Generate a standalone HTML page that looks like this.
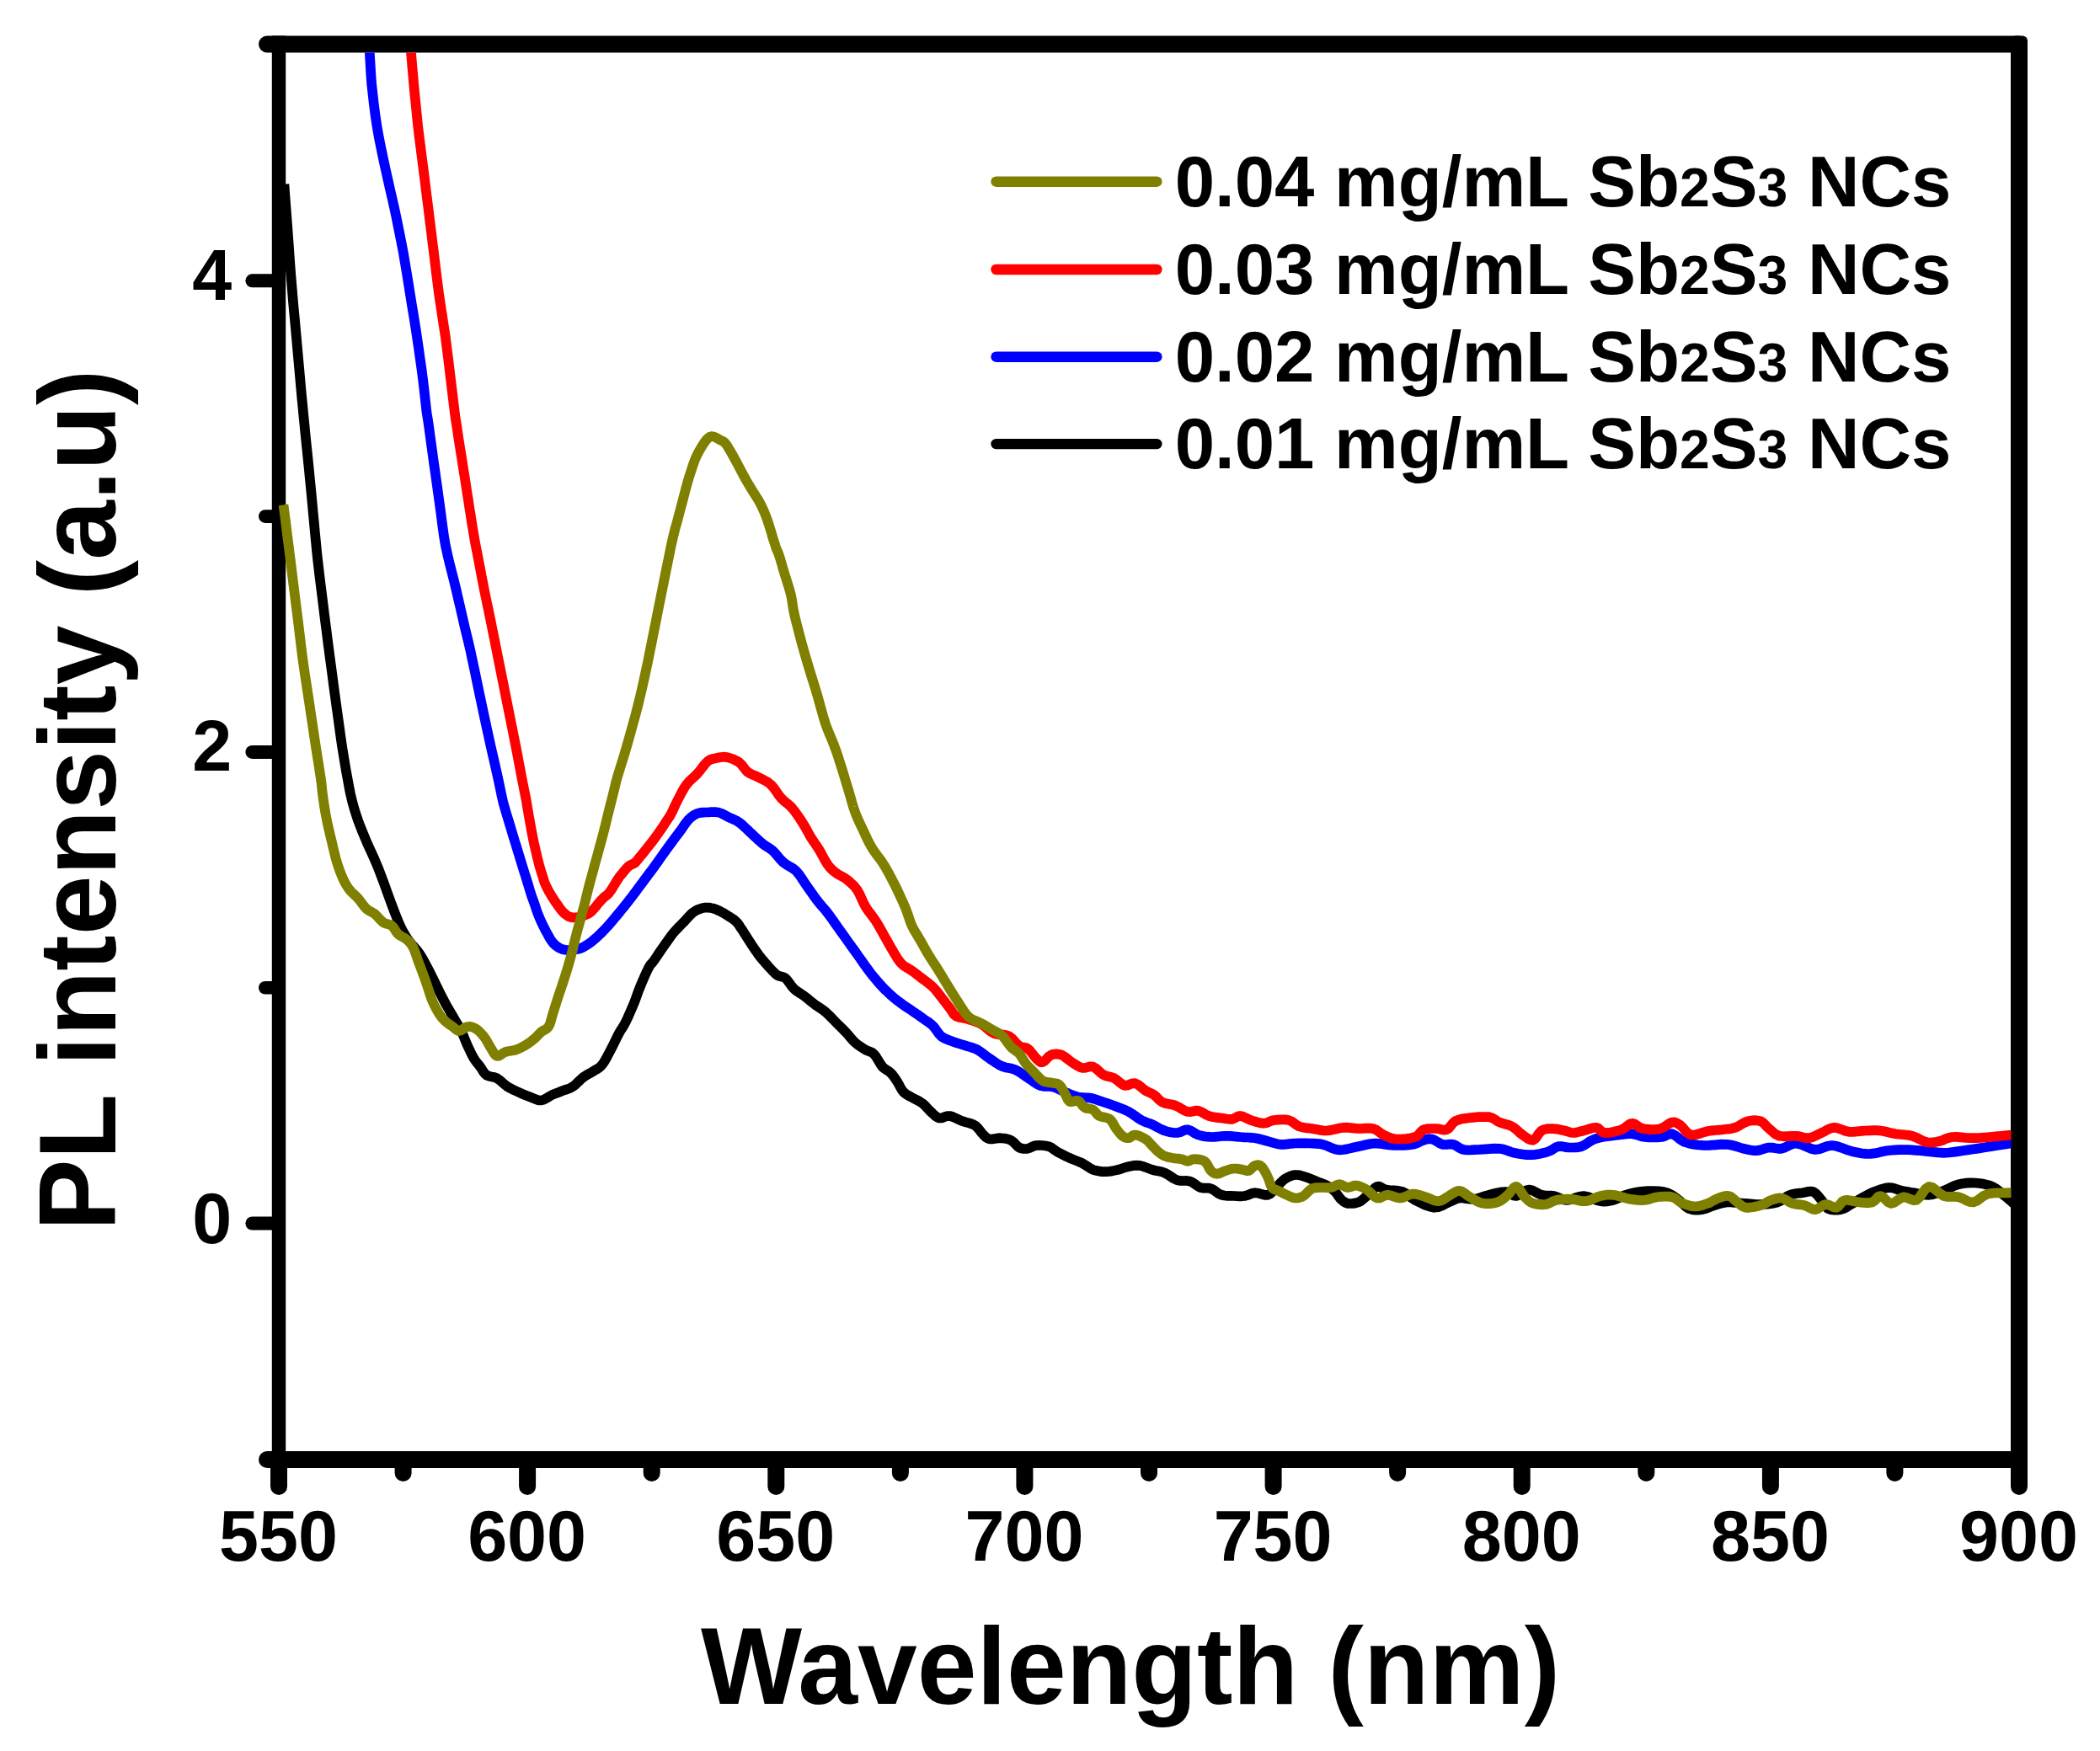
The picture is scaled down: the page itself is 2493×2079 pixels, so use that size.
<!DOCTYPE html>
<html lang="en"><head><meta charset="utf-8"><title>PL intensity vs Wavelength</title>
<style>html,body{margin:0;padding:0;background:#fff;}svg{display:block;}text{font-family:"Liberation Sans",Arial,Helvetica,sans-serif;font-weight:bold;fill:#000;}</style></head><body>
<svg width="2493" height="2079" viewBox="0 0 2493 2079">
<rect width="2493" height="2079" fill="#fff"/>
<defs><clipPath id="plot"><rect x="331" y="62.5" width="2056.5" height="1660"/></clipPath></defs>
<g stroke="#000" fill="none" stroke-linecap="round">
<line x1="317" y1="52.5" x2="2397" y2="52.5" stroke-width="20.0"/>
<line x1="317" y1="1733.0" x2="2397" y2="1733.0" stroke-width="20.0" />
<line x1="331.0" y1="1733.0" x2="331.0" y2="1765" stroke-width="20.0"/>
<line x1="626.1" y1="1733.0" x2="626.1" y2="1765" stroke-width="20.0"/>
<line x1="921.3" y1="1733.0" x2="921.3" y2="1765" stroke-width="20.0"/>
<line x1="1216.4" y1="1733.0" x2="1216.4" y2="1765" stroke-width="20.0"/>
<line x1="1511.6" y1="1733.0" x2="1511.6" y2="1765" stroke-width="20.0"/>
<line x1="1806.7" y1="1733.0" x2="1806.7" y2="1765" stroke-width="20.0"/>
<line x1="2101.9" y1="1733.0" x2="2101.9" y2="1765" stroke-width="20.0"/>
<line x1="2397.0" y1="1733.0" x2="2397.0" y2="1765" stroke-width="20.0"/>
<line x1="478.6" y1="1733.0" x2="478.6" y2="1749" stroke-width="20.0"/>
<line x1="773.7" y1="1733.0" x2="773.7" y2="1749" stroke-width="20.0"/>
<line x1="1068.9" y1="1733.0" x2="1068.9" y2="1749" stroke-width="20.0"/>
<line x1="1364.0" y1="1733.0" x2="1364.0" y2="1749" stroke-width="20.0"/>
<line x1="1659.1" y1="1733.0" x2="1659.1" y2="1749" stroke-width="20.0"/>
<line x1="1954.3" y1="1733.0" x2="1954.3" y2="1749" stroke-width="20.0"/>
<line x1="2249.4" y1="1733.0" x2="2249.4" y2="1749" stroke-width="20.0"/>
<line x1="299.4" y1="1452.5" x2="331" y2="1452.5" stroke-width="16.0"/>
<line x1="299.4" y1="892.9" x2="331" y2="892.9" stroke-width="16.0"/>
<line x1="299.4" y1="333.3" x2="331" y2="333.3" stroke-width="16.0"/>
<line x1="314.8" y1="1172.7" x2="331" y2="1172.7" stroke-width="15.6"/>
<line x1="314.8" y1="613.1" x2="331" y2="613.1" stroke-width="15.6"/>
</g>
<g stroke="#000" fill="none" stroke-linecap="butt">
<line x1="331" y1="42.5" x2="331" y2="1743.0" stroke-width="16.4"/>
<line x1="2397" y1="48.5" x2="2397" y2="1743.0" stroke-width="20.0"/>
</g>
<rect x="2387" y="42.5" width="20" height="20" rx="6" fill="#000"/>
<g clip-path="url(#plot)">
<polyline points="337.4,218.6 338.3,231.2 339.7,249.5 341.2,269.1 342.4,285.7 343.3,298.1 344.0,308.7 344.7,318.4 345.5,328.6 346.4,339.3 347.3,350.0 348.2,360.7 349.2,371.4 350.2,382.3 351.2,393.3 352.2,404.1 353.1,414.3 353.9,423.6 354.7,432.1 355.5,440.7 356.3,450.0 357.2,460.2 358.2,471.1 359.3,482.1 360.3,493.0 361.4,503.7 362.4,514.4 363.5,525.0 364.6,535.7 365.7,546.4 366.8,557.1 367.8,567.9 368.9,578.6 369.9,589.3 370.9,600.0 371.9,610.7 372.9,621.4 373.9,632.3 375.0,643.3 376.0,654.1 377.1,664.3 378.2,673.7 379.2,682.5 380.3,691.2 381.4,700.0 382.5,708.9 383.6,717.6 384.7,726.8 386.0,737.0 387.5,748.6 389.1,761.2 390.8,774.2 392.5,787.0 394.2,799.5 395.8,812.0 397.5,824.5 399.2,837.0 401.0,849.8 402.8,862.8 404.5,875.4 406.2,887.0 407.9,897.4 409.5,907.1 411.0,915.9 412.5,924.0 413.8,931.1 414.9,937.2 416.1,943.0 417.5,949.0 419.1,955.2 420.9,961.5 422.9,967.8 425.0,974.0 427.3,980.2 429.8,986.5 432.4,992.8 435.0,999.0 437.8,1005.3 440.7,1011.7 443.6,1017.9 446.2,1024.0 448.6,1029.7 450.7,1035.1 452.8,1040.6 455.0,1046.5 457.4,1053.1 459.9,1060.1 462.5,1067.2 465.0,1074.0 467.5,1080.6 470.0,1087.1 472.5,1093.3 475.0,1099.0 477.4,1104.0 479.8,1108.4 482.3,1112.5 485.0,1116.5 488.0,1120.4 491.2,1124.0 494.5,1127.6 497.5,1131.5 500.2,1135.6 502.7,1139.9 505.1,1144.4 507.5,1149.0 510.0,1153.8 512.5,1158.8 515.0,1163.9 517.5,1169.0 520.0,1174.1 522.5,1179.2 525.0,1184.2 527.5,1189.0 530.0,1193.6 532.5,1197.9 535.0,1202.2 537.5,1206.5 540.1,1210.9 542.7,1215.2 545.2,1219.6 547.5,1224.0 549.6,1228.4 551.4,1232.9 553.2,1237.3 555.0,1241.5 556.9,1245.5 558.8,1249.5 560.6,1253.2 562.5,1256.5 564.4,1259.4 566.2,1261.8 568.1,1264.1 570.0,1266.5 571.8,1269.1 573.4,1271.9 575.3,1274.4 577.5,1276.5 580.3,1277.7 583.4,1278.4 586.8,1279.0 590.0,1280.2 593.1,1282.4 596.2,1285.1 599.4,1287.9 602.5,1290.2 605.6,1292.1 608.6,1293.6 611.7,1295.0 615.0,1296.5 618.6,1298.1 622.5,1299.8 626.4,1301.4 630.0,1302.8 633.3,1304.1 636.4,1305.4 639.4,1306.3 642.5,1306.5 645.6,1305.6 648.8,1303.9 651.9,1302.0 655.0,1300.2 658.1,1298.9 661.2,1297.7 664.4,1296.5 667.5,1295.2 670.6,1294.1 673.8,1293.1 676.9,1291.9 680.0,1290.2 683.1,1287.8 686.2,1284.8 689.4,1281.7 692.5,1279.0 695.7,1276.9 698.9,1275.0 702.1,1273.3 705.0,1271.5 707.7,1269.9 710.2,1268.4 712.6,1266.6 715.0,1264.0 717.5,1260.4 720.0,1256.0 722.5,1251.3 725.0,1246.5 727.6,1241.5 730.2,1236.2 732.7,1231.0 735.0,1226.5 737.0,1223.1 738.8,1220.4 740.5,1217.7 742.5,1214.0 744.9,1209.0 747.5,1203.2 750.1,1197.2 752.5,1191.5 754.5,1186.4 756.2,1181.5 758.0,1176.6 760.0,1171.5 762.4,1165.7 765.1,1159.5 767.7,1153.7 770.0,1149.0 771.7,1146.1 773.2,1144.3 774.5,1142.9 776.0,1141.0 777.7,1138.5 779.6,1135.7 781.5,1132.9 783.4,1130.0 785.4,1127.2 787.4,1124.3 789.4,1121.4 791.5,1118.5 793.5,1115.6 795.5,1112.8 797.6,1109.9 799.9,1107.1 802.5,1104.2 805.2,1101.4 808.0,1098.5 810.8,1095.7 813.6,1092.7 816.4,1089.6 819.1,1086.7 821.6,1084.3 823.9,1082.6 825.9,1081.3 827.9,1080.3 830.0,1079.5 832.2,1078.7 834.3,1078.1 836.6,1077.7 838.8,1077.5 841.1,1077.6 843.4,1077.9 845.7,1078.4 848.0,1079.0 850.3,1079.8 852.5,1080.8 854.8,1081.9 857.0,1083.1 859.3,1084.3 861.6,1085.7 863.8,1087.1 866.0,1088.5 868.2,1089.9 870.3,1091.3 872.3,1092.8 874.2,1094.5 875.8,1096.3 877.3,1098.3 878.6,1100.4 880.0,1102.5 881.4,1104.6 882.7,1106.6 884.1,1108.8 885.6,1111.1 887.2,1113.7 888.9,1116.4 890.7,1119.2 892.5,1122.0 894.4,1124.8 896.4,1127.8 898.4,1130.5 900.0,1132.8 901.1,1134.4 901.9,1135.5 902.8,1136.5 904.0,1138.0 905.8,1140.1 907.9,1142.6 910.2,1145.2 912.5,1147.8 914.9,1150.4 917.4,1153.1 920.0,1155.7 922.5,1157.8 925.0,1158.9 927.5,1159.5 930.0,1160.1 932.5,1161.5 934.9,1164.1 937.3,1167.4 939.8,1170.9 942.5,1174.0 945.4,1176.4 948.6,1178.5 951.8,1180.6 955.0,1182.8 958.1,1185.2 961.2,1187.8 964.4,1190.3 967.5,1192.8 970.6,1194.9 973.8,1197.0 976.9,1199.1 980.0,1201.5 983.1,1204.4 986.2,1207.5 989.4,1210.8 992.5,1214.0 995.7,1217.2 998.9,1220.3 1002.1,1223.5 1005.0,1226.5 1007.6,1229.5 1010.0,1232.4 1012.4,1235.1 1015.0,1237.8 1018.0,1240.2 1021.2,1242.5 1024.5,1244.6 1027.5,1246.5 1030.2,1247.8 1032.7,1248.6 1035.1,1249.6 1037.5,1251.5 1040.0,1254.7 1042.5,1258.8 1045.0,1263.0 1047.5,1266.5 1050.1,1268.8 1052.7,1270.6 1055.2,1272.1 1057.5,1274.0 1059.6,1276.3 1061.4,1278.7 1063.2,1281.3 1065.0,1284.0 1066.8,1287.1 1068.6,1290.5 1070.4,1293.7 1072.5,1296.5 1074.8,1298.5 1077.2,1300.1 1079.8,1301.5 1082.5,1303.0 1085.5,1304.6 1088.8,1306.3 1092.0,1308.0 1095.0,1310.0 1097.7,1312.3 1100.2,1315.0 1102.6,1317.6 1105.0,1320.0 1107.4,1322.3 1109.8,1324.5 1112.3,1326.4 1115.0,1327.5 1117.9,1327.4 1120.9,1326.3 1124.1,1325.2 1127.5,1325.0 1131.1,1326.0 1134.8,1327.7 1138.7,1329.6 1142.5,1331.2 1146.4,1332.4 1150.3,1333.4 1154.1,1334.6 1157.5,1336.2 1160.4,1338.8 1163.0,1341.9 1165.3,1345.0 1167.5,1347.5 1169.4,1349.3 1171.1,1350.8 1172.8,1351.8 1175.0,1352.5 1177.8,1352.5 1180.9,1352.0 1184.3,1351.4 1187.5,1351.2 1190.7,1351.5 1193.9,1351.9 1197.1,1352.6 1200.0,1353.8 1202.7,1355.7 1205.2,1358.2 1207.6,1360.7 1210.0,1362.5 1212.5,1363.5 1215.0,1363.9 1217.5,1364.0 1220.0,1363.8 1222.4,1363.0 1224.7,1361.9 1227.1,1360.7 1230.0,1360.0 1233.5,1359.8 1237.5,1360.0 1241.5,1360.5 1245.0,1361.2 1247.7,1362.4 1250.0,1364.0 1252.3,1365.7 1255.0,1367.5 1258.4,1369.3 1262.2,1371.2 1266.1,1373.2 1270.0,1375.0 1273.8,1376.6 1277.7,1378.1 1281.4,1379.6 1285.0,1381.2 1288.2,1383.2 1291.2,1385.2 1294.3,1387.2 1297.5,1388.8 1301.1,1389.8 1304.8,1390.6 1308.7,1391.1 1312.5,1391.2 1316.3,1391.0 1320.2,1390.4 1323.9,1389.6 1327.5,1388.8 1330.8,1387.8 1333.9,1386.8 1336.9,1385.8 1340.0,1385.0 1343.1,1384.4 1346.1,1383.8 1349.2,1383.6 1352.5,1383.8 1356.1,1384.6 1359.8,1385.9 1363.7,1387.4 1367.5,1388.8 1371.2,1389.7 1375.0,1390.4 1378.8,1391.2 1382.5,1392.5 1386.2,1394.5 1390.0,1397.0 1393.8,1399.5 1397.5,1401.2 1401.3,1401.9 1405.2,1402.0 1408.9,1401.9 1412.5,1402.5 1415.8,1404.1 1418.9,1406.2 1421.9,1408.4 1425.0,1410.0 1428.1,1410.6 1431.2,1410.6 1434.4,1410.6 1437.5,1411.2 1440.6,1412.8 1443.6,1415.0 1446.7,1417.2 1450.0,1418.8 1453.6,1419.5 1457.5,1419.8 1461.4,1419.9 1465.0,1420.0 1468.3,1420.2 1471.4,1420.3 1474.4,1420.3 1477.5,1420.0 1480.6,1419.2 1483.6,1418.0 1486.7,1416.8 1490.0,1416.2 1493.7,1416.7 1497.7,1417.8 1501.5,1418.8 1505.0,1418.8 1507.9,1417.4 1510.3,1415.2 1512.6,1412.5 1515.0,1410.0 1517.4,1407.5 1519.8,1404.8 1522.3,1402.2 1525.0,1400.0 1527.9,1398.2 1531.1,1396.7 1534.3,1395.6 1537.5,1395.0 1540.6,1395.0 1543.8,1395.6 1546.9,1396.5 1550.0,1397.5 1553.1,1398.6 1556.2,1399.8 1559.4,1401.2 1562.5,1402.5 1565.7,1403.7 1568.9,1404.8 1572.1,1406.1 1575.0,1407.5 1577.7,1409.2 1580.3,1411.0 1582.8,1413.0 1585.0,1415.0 1586.9,1417.2 1588.6,1419.7 1590.2,1422.0 1592.0,1424.0 1593.8,1425.6 1595.7,1427.0 1597.7,1428.1 1600.0,1428.8 1602.9,1429.0 1606.1,1428.9 1609.4,1428.4 1612.5,1427.5 1615.1,1426.2 1617.5,1424.4 1619.9,1422.3 1622.5,1420.0 1625.5,1417.1 1628.8,1413.7 1632.0,1410.6 1635.0,1408.8 1637.4,1408.7 1639.5,1409.8 1641.9,1411.3 1645.0,1412.5 1649.4,1413.0 1654.7,1413.4 1660.1,1413.9 1665.0,1415.0 1668.9,1417.0 1672.3,1419.6 1675.8,1422.4 1680.0,1425.0 1685.2,1427.6 1691.1,1430.4 1697.1,1432.6 1702.5,1433.8 1707.3,1433.2 1711.9,1431.5 1716.1,1429.3 1720.0,1427.5 1723.4,1426.0 1726.2,1424.5 1729.1,1423.3 1732.5,1422.5 1736.5,1422.5 1740.9,1423.1 1745.5,1423.7 1750.0,1423.8 1754.3,1422.9 1758.6,1421.6 1762.9,1420.1 1767.5,1418.8 1772.5,1417.5 1777.8,1416.2 1783.0,1415.3 1787.5,1415.0 1791.1,1415.9 1794.1,1417.7 1796.9,1419.4 1800.0,1420.0 1803.6,1418.7 1807.3,1416.2 1811.2,1413.7 1815.0,1412.5 1818.8,1413.2 1822.5,1415.1 1826.2,1417.2 1830.0,1418.8 1833.8,1419.3 1837.5,1419.5 1841.2,1419.5 1845.0,1420.0 1848.6,1421.2 1852.2,1422.9 1855.9,1424.4 1860.0,1425.0 1864.6,1424.2 1869.7,1422.4 1874.9,1420.7 1880.0,1420.0 1885.1,1420.9 1890.3,1422.9 1895.4,1425.0 1900.0,1426.2 1904.1,1426.6 1907.8,1426.4 1911.4,1425.8 1915.0,1425.0 1918.6,1423.7 1922.2,1422.1 1925.9,1420.3 1930.0,1418.8 1934.5,1417.4 1939.4,1416.2 1944.5,1415.2 1950.0,1414.5 1956.1,1414.1 1962.8,1414.0 1969.3,1414.3 1975.0,1415.0 1979.5,1416.3 1983.1,1418.0 1986.5,1420.1 1990.0,1422.5 1993.8,1425.5 1997.5,1429.1 2001.2,1432.5 2005.0,1435.0 2008.8,1436.2 2012.5,1436.7 2016.2,1436.6 2020.0,1436.2 2023.8,1435.4 2027.5,1434.1 2031.2,1432.6 2035.0,1431.2 2038.6,1430.1 2042.2,1429.0 2045.9,1428.1 2050.0,1427.5 2054.6,1427.5 2059.7,1427.8 2064.9,1428.3 2070.0,1428.8 2075.0,1429.2 2080.0,1429.6 2085.0,1430.0 2090.0,1430.0 2095.1,1429.8 2100.3,1429.4 2105.4,1428.7 2110.0,1427.5 2114.1,1425.6 2117.8,1423.1 2121.4,1420.6 2125.0,1418.8 2128.8,1417.7 2132.7,1417.0 2136.4,1416.6 2140.0,1416.2 2143.4,1415.6 2146.6,1414.8 2149.6,1414.5 2152.5,1415.0 2155.2,1416.7 2157.8,1419.3 2160.2,1422.2 2162.5,1425.0 2164.4,1427.7 2165.9,1430.5 2167.7,1433.1 2170.0,1435.0 2173.3,1436.1 2177.2,1436.6 2181.2,1436.7 2185.0,1436.2 2188.3,1435.2 2191.4,1433.7 2194.4,1431.8 2197.5,1430.0 2200.6,1428.2 2203.6,1426.3 2206.7,1424.4 2210.0,1422.5 2213.5,1420.6 2217.2,1418.6 2221.0,1416.7 2225.0,1415.0 2229.3,1413.4 2233.8,1411.8 2238.2,1410.6 2242.5,1410.0 2246.4,1410.4 2250.2,1411.4 2253.8,1412.7 2257.5,1413.8 2261.2,1414.5 2264.8,1415.1 2268.6,1415.7 2272.5,1416.2 2276.7,1417.1 2281.1,1418.0 2285.6,1418.7 2290.0,1418.8 2294.4,1418.1 2298.8,1416.9 2303.1,1415.4 2307.5,1413.8 2311.8,1411.9 2316.1,1409.8 2320.4,1407.8 2325.0,1406.2 2329.8,1405.3 2334.8,1404.6 2339.9,1404.4 2345.0,1404.5 2350.1,1405.0 2355.3,1405.8 2360.4,1407.1 2365.0,1408.8 2369.3,1411.2 2373.3,1414.2 2376.9,1417.4 2380.0,1420.0 2382.5,1422.0 2384.4,1423.6 2386.0,1425.0 2387.5,1426.2 2388.9,1427.5 2390.2,1428.5 2391.3,1429.4 2392.0,1430.0" fill="none" stroke="#000000" stroke-width="11.70" stroke-linejoin="round" stroke-linecap="butt"/>
<polyline points="436.0,40.0 436.5,43.7 437.2,48.9 438.0,55.3 438.8,62.5 439.3,70.5 439.8,79.5 440.4,89.4 441.2,100.0 442.5,111.6 443.9,124.2 445.6,137.2 447.5,150.0 449.7,162.5 452.2,175.0 454.8,187.5 457.5,200.0 460.3,212.5 463.1,225.0 466.0,237.5 468.8,250.0 471.4,262.5 473.9,275.0 476.4,287.5 478.8,300.0 480.9,312.5 483.0,325.0 485.0,337.5 487.0,350.0 489.0,362.5 491.1,375.0 493.1,387.5 495.0,400.0 496.9,412.8 498.7,425.8 500.5,438.4 502.0,450.0 503.3,460.7 504.4,470.8 505.4,479.7 506.2,487.0 506.8,491.4 507.2,493.5 507.5,495.6 508.2,500.0 509.3,507.7 510.6,517.3 512.0,527.6 513.3,537.0 514.4,545.2 515.5,552.9 516.6,560.5 517.7,568.5 518.9,576.9 520.1,585.6 521.3,594.3 522.5,603.0 523.7,611.8 524.8,620.8 526.0,629.4 527.1,637.1 528.1,643.2 529.0,648.2 530.1,653.3 531.6,660.0 533.7,668.9 536.3,679.1 539.0,689.8 541.5,700.0 543.7,709.6 545.9,719.0 548.0,728.2 550.0,737.0 552.0,745.6 554.0,753.9 555.9,761.7 557.5,768.5 558.6,773.3 559.3,776.6 560.1,780.5 561.5,787.0 563.7,797.3 566.3,810.0 569.2,823.8 572.0,837.0 574.7,849.8 577.5,862.8 580.3,875.4 582.8,887.0 585.2,897.4 587.4,907.1 589.4,915.9 591.2,924.0 592.8,931.4 594.2,938.1 595.4,944.0 596.5,949.0 597.3,952.6 598.0,955.0 598.6,957.2 599.4,960.0 600.5,963.8 601.8,968.1 603.2,972.6 604.5,977.0 605.8,981.3 607.1,985.6 608.4,990.0 609.7,994.3 611.0,998.6 612.4,1002.9 613.7,1007.2 615.0,1011.5 616.3,1015.8 617.6,1020.0 618.9,1024.3 620.2,1028.5 621.5,1032.7 622.8,1037.0 624.2,1041.2 625.5,1045.5 626.9,1049.9 628.2,1054.5 629.6,1058.9 630.8,1062.8 631.9,1066.0 632.9,1068.8 633.8,1071.3 634.8,1074.0 635.8,1076.9 636.7,1079.8 637.7,1082.7 638.8,1085.6 640.0,1088.6 641.3,1091.6 642.6,1094.6 644.0,1097.5 645.4,1100.3 646.8,1103.1 648.2,1105.8 649.7,1108.5 651.3,1111.4 652.9,1114.3 654.7,1117.1 656.5,1119.5 658.5,1121.5 660.6,1123.3 662.7,1124.8 665.0,1126.0 667.3,1127.0 669.6,1127.6 672.0,1128.0 674.8,1128.2 678.1,1128.1 681.7,1127.6 685.3,1127.0 688.5,1126.2 691.1,1125.2 693.3,1124.1 695.4,1122.8 697.5,1121.5 699.6,1120.1 701.6,1118.6 703.6,1117.0 705.6,1115.3 707.7,1113.5 709.8,1111.6 711.9,1109.6 714.0,1107.5 716.2,1105.3 718.4,1103.0 720.6,1100.6 722.8,1098.2 724.9,1095.8 726.9,1093.4 728.9,1091.0 731.0,1088.5 733.2,1085.9 735.4,1083.2 737.7,1080.4 739.9,1077.7 742.1,1075.0 744.2,1072.3 746.4,1069.6 748.5,1066.8 750.7,1064.0 752.8,1061.1 755.0,1058.3 757.1,1055.4 759.2,1052.6 761.3,1049.7 763.4,1046.9 765.5,1044.0 767.7,1041.1 769.8,1038.3 772.0,1035.4 774.2,1032.5 776.4,1029.5 778.5,1026.5 780.7,1023.5 782.8,1020.5 784.9,1017.5 787.0,1014.5 789.2,1011.5 791.3,1008.5 793.5,1005.5 795.7,1002.5 797.9,999.5 800.0,996.6 802.0,993.9 804.0,991.4 805.9,988.8 808.0,986.0 810.3,982.8 812.6,979.3 815.1,975.9 817.5,973.0 820.0,970.7 822.4,968.8 825.0,967.2 827.5,966.0 830.0,965.2 832.5,964.8 835.1,964.6 838.0,964.5 841.4,964.3 845.1,964.0 848.9,964.1 852.5,964.5 855.8,965.5 858.9,967.0 861.9,968.6 865.0,970.2 868.1,971.7 871.2,973.0 874.4,974.6 877.5,976.5 880.6,978.9 883.6,981.7 886.7,984.6 890.0,987.8 893.6,991.1 897.5,994.8 901.4,998.4 905.0,1001.5 908.3,1003.9 911.4,1005.9 914.4,1007.8 917.5,1010.2 920.6,1013.4 923.6,1017.0 926.7,1020.7 930.0,1024.0 933.6,1026.6 937.5,1028.8 941.4,1031.1 945.0,1034.0 948.3,1037.8 951.4,1042.3 954.4,1046.9 957.5,1051.5 960.6,1055.9 963.8,1060.4 966.9,1064.8 970.0,1069.0 973.1,1072.9 976.2,1076.5 979.4,1080.1 982.5,1084.0 985.6,1088.2 988.8,1092.6 991.9,1097.1 995.0,1101.5 998.1,1105.9 1001.2,1110.2 1004.4,1114.6 1007.5,1119.0 1010.6,1123.4 1013.8,1127.8 1016.9,1132.1 1020.0,1136.5 1023.1,1140.9 1026.2,1145.4 1029.4,1149.8 1032.5,1154.0 1035.6,1158.0 1038.8,1161.8 1041.9,1165.5 1045.0,1169.0 1048.1,1172.4 1051.2,1175.6 1054.4,1178.6 1057.5,1181.5 1060.6,1184.2 1063.8,1186.8 1066.9,1189.2 1070.0,1191.5 1073.1,1193.7 1076.2,1195.8 1079.4,1197.9 1082.5,1200.0 1085.6,1202.2 1088.8,1204.3 1091.9,1206.5 1095.0,1208.8 1098.2,1211.0 1101.4,1213.1 1104.6,1215.4 1107.5,1218.0 1110.1,1221.1 1112.5,1224.5 1114.9,1227.8 1117.5,1230.5 1120.4,1232.4 1123.4,1233.8 1126.6,1235.0 1130.0,1236.2 1133.6,1237.6 1137.3,1238.8 1141.2,1240.0 1145.0,1241.2 1148.8,1242.4 1152.5,1243.4 1156.2,1244.6 1160.0,1246.2 1163.8,1248.6 1167.5,1251.4 1171.2,1254.3 1175.0,1257.0 1178.8,1259.5 1182.5,1262.1 1186.2,1264.4 1190.0,1266.2 1193.8,1267.4 1197.5,1268.1 1201.2,1268.8 1205.0,1270.0 1208.8,1272.0 1212.5,1274.4 1216.2,1277.0 1220.0,1279.5 1223.8,1282.1 1227.5,1284.8 1231.2,1287.2 1235.0,1289.0 1238.8,1289.8 1242.5,1289.9 1246.2,1290.0 1250.0,1290.5 1253.8,1291.8 1257.5,1293.5 1261.2,1295.3 1265.0,1297.0 1268.8,1298.5 1272.5,1300.1 1276.2,1301.4 1280.0,1302.5 1283.8,1303.0 1287.5,1303.2 1291.2,1303.3 1295.0,1303.8 1298.8,1304.7 1302.5,1305.9 1306.2,1307.2 1310.0,1308.5 1313.8,1309.8 1317.5,1311.0 1321.2,1312.4 1325.0,1313.8 1328.8,1315.2 1332.5,1316.6 1336.2,1318.2 1340.0,1320.0 1343.8,1322.4 1347.7,1325.1 1351.4,1327.8 1355.0,1330.0 1358.2,1331.5 1361.2,1332.7 1364.3,1333.7 1367.5,1335.0 1371.1,1336.8 1374.8,1338.9 1378.7,1340.9 1382.5,1342.5 1386.3,1343.6 1390.2,1344.5 1393.9,1344.9 1397.5,1345.0 1400.8,1344.3 1403.9,1342.9 1406.9,1341.6 1410.0,1341.2 1413.1,1342.2 1416.1,1344.0 1419.2,1346.0 1422.5,1347.5 1426.0,1348.5 1429.7,1349.2 1433.5,1349.7 1437.5,1350.0 1441.7,1349.9 1446.1,1349.5 1450.6,1349.0 1455.0,1348.8 1459.4,1348.9 1463.8,1349.2 1468.1,1349.6 1472.5,1350.0 1476.9,1350.3 1481.4,1350.5 1485.8,1350.8 1490.0,1351.2 1493.9,1352.0 1497.7,1353.0 1501.3,1354.0 1505.0,1355.0 1508.7,1356.1 1512.3,1357.2 1516.1,1358.2 1520.0,1358.8 1524.2,1358.8 1528.6,1358.4 1533.1,1357.8 1537.5,1357.5 1541.9,1357.4 1546.4,1357.3 1550.8,1357.4 1555.0,1357.5 1558.9,1357.6 1562.7,1357.8 1566.3,1358.1 1570.0,1358.8 1573.9,1360.0 1577.8,1361.7 1581.6,1363.3 1585.0,1364.5 1587.7,1365.1 1589.8,1365.3 1592.1,1365.3 1595.0,1365.0 1598.8,1364.4 1603.1,1363.4 1607.8,1362.3 1612.5,1361.2 1617.3,1360.2 1622.2,1359.0 1627.3,1358.0 1632.5,1357.5 1637.9,1357.8 1643.6,1358.6 1649.3,1359.5 1655.0,1360.0 1660.9,1360.0 1666.9,1359.8 1672.6,1359.4 1677.5,1358.8 1681.4,1357.7 1684.5,1356.2 1687.3,1354.8 1690.0,1353.8 1692.6,1353.0 1695.0,1352.4 1697.4,1352.2 1700.0,1352.5 1702.9,1353.7 1706.1,1355.5 1709.3,1357.5 1712.5,1358.8 1715.6,1359.0 1718.8,1358.8 1721.9,1358.5 1725.0,1358.8 1728.0,1360.0 1730.9,1361.9 1734.0,1363.7 1737.5,1365.0 1741.3,1365.5 1745.5,1365.5 1750.0,1365.2 1755.0,1365.0 1760.9,1364.6 1767.5,1364.1 1774.1,1363.7 1780.0,1363.8 1784.8,1364.6 1789.1,1366.0 1793.1,1367.5 1797.5,1368.8 1802.3,1369.7 1807.3,1370.5 1812.4,1371.1 1817.5,1371.2 1822.7,1370.8 1828.0,1369.9 1833.0,1368.8 1837.5,1367.5 1841.2,1365.9 1844.2,1364.1 1847.1,1362.3 1850.0,1361.2 1853.1,1361.1 1856.1,1361.6 1859.2,1362.2 1862.5,1362.5 1866.1,1362.5 1870.0,1362.4 1873.9,1362.1 1877.5,1361.2 1880.8,1359.7 1883.9,1357.7 1886.9,1355.5 1890.0,1353.8 1892.9,1352.5 1895.8,1351.6 1898.8,1350.8 1902.5,1350.0 1907.1,1349.3 1912.3,1348.6 1917.7,1348.0 1922.5,1347.5 1926.6,1347.0 1930.3,1346.5 1933.9,1346.2 1937.5,1346.2 1941.1,1346.9 1944.7,1348.0 1948.4,1349.2 1952.5,1350.0 1957.3,1350.4 1962.7,1350.5 1967.9,1350.4 1972.5,1350.0 1976.1,1349.0 1979.1,1347.5 1981.9,1346.3 1985.0,1346.2 1988.4,1347.9 1991.9,1350.6 1995.7,1353.7 2000.0,1356.0 2005.0,1357.5 2010.5,1358.7 2016.3,1359.5 2022.5,1360.0 2029.2,1359.9 2036.4,1359.3 2043.5,1358.7 2050.0,1358.8 2055.6,1359.6 2060.8,1361.0 2065.5,1362.5 2070.0,1363.8 2074.1,1364.7 2077.8,1365.5 2081.4,1366.1 2085.0,1366.2 2088.8,1365.6 2092.5,1364.5 2096.2,1363.2 2100.0,1362.5 2103.7,1362.6 2107.3,1363.3 2111.1,1363.8 2115.0,1363.8 2119.1,1362.4 2123.3,1360.2 2127.7,1358.3 2132.5,1357.5 2137.8,1358.7 2143.6,1361.2 2149.4,1363.7 2155.0,1365.0 2160.1,1364.3 2164.8,1362.5 2169.7,1360.7 2175.0,1360.0 2181.0,1361.1 2187.5,1363.3 2194.0,1365.7 2200.0,1367.5 2205.4,1368.6 2210.3,1369.5 2215.1,1369.9 2220.0,1370.0 2225.0,1369.4 2230.0,1368.4 2235.0,1367.2 2240.0,1366.2 2245.0,1365.7 2250.0,1365.3 2255.0,1365.1 2260.0,1365.0 2264.8,1365.1 2269.5,1365.4 2274.5,1365.8 2280.0,1366.2 2286.5,1366.9 2293.6,1367.7 2300.8,1368.4 2307.5,1368.8 2313.4,1368.5 2318.9,1367.9 2324.3,1367.1 2330.0,1366.2 2335.9,1365.4 2341.9,1364.5 2348.2,1363.6 2355.0,1362.5 2363.3,1361.2 2372.5,1359.8 2381.2,1358.5 2387.5,1357.5 2390.7,1357.0 2391.8,1356.9 2391.8,1357.0 2392.0,1357.0" fill="none" stroke="#0000ff" stroke-width="11.70" stroke-linejoin="round" stroke-linecap="butt"/>
<polyline points="486.0,40.0 486.3,43.7 486.8,48.9 487.4,55.3 488.0,62.5 488.7,70.5 489.4,79.5 490.3,89.4 491.2,100.0 492.3,111.6 493.6,124.2 494.9,137.2 496.2,150.0 497.7,162.5 499.3,175.0 500.9,187.5 502.5,200.0 504.1,212.5 505.6,225.0 507.2,237.5 508.8,250.0 510.3,262.5 511.9,275.0 513.4,287.5 515.0,300.0 516.5,312.5 518.0,325.0 519.6,337.5 521.2,350.0 523.1,362.5 525.0,375.0 526.9,387.5 528.8,400.0 530.4,412.8 532.1,425.8 533.6,438.4 535.0,450.0 536.3,460.7 537.5,470.8 538.6,479.7 539.5,487.0 540.0,491.4 540.3,493.5 540.6,495.6 541.3,500.0 542.5,507.7 543.9,517.3 545.5,527.6 547.0,537.0 548.3,545.2 549.5,552.9 550.7,560.5 552.0,568.5 553.3,576.9 554.6,585.6 556.0,594.3 557.3,603.0 558.7,611.6 560.0,620.3 561.4,628.8 562.8,637.1 564.2,645.0 565.7,652.7 567.2,660.3 568.7,668.0 570.2,675.8 571.6,683.6 573.2,691.6 574.8,700.0 576.6,708.6 578.4,717.4 580.4,726.7 582.5,737.0 584.8,748.6 587.4,761.2 589.9,774.2 592.5,787.0 595.0,799.5 597.5,812.0 600.0,824.5 602.5,837.0 605.1,849.8 607.7,862.8 610.2,875.4 612.5,887.0 614.5,897.4 616.3,907.1 618.0,915.9 619.5,924.0 621.0,931.4 622.3,938.1 623.5,944.0 624.5,949.0 625.1,952.6 625.5,955.0 625.8,957.2 626.3,960.0 627.0,963.8 627.7,968.1 628.5,972.6 629.3,977.0 630.1,981.3 630.8,985.6 631.7,990.0 632.5,994.3 633.4,998.6 634.3,1002.9 635.3,1007.2 636.3,1011.5 637.3,1015.9 638.4,1020.3 639.5,1024.6 640.5,1028.5 641.5,1031.9 642.4,1034.9 643.3,1037.7 644.2,1040.5 645.1,1043.3 645.9,1046.0 646.9,1048.7 648.0,1051.4 649.4,1054.2 650.9,1057.1 652.5,1059.9 654.2,1062.8 656.0,1065.7 657.9,1068.7 659.9,1071.6 661.7,1074.2 663.4,1076.6 664.9,1078.8 666.5,1080.7 668.0,1082.5 669.5,1084.1 671.1,1085.4 672.5,1086.6 674.0,1087.5 675.4,1088.2 676.7,1088.7 678.0,1089.1 679.4,1089.3 681.0,1089.4 682.6,1089.4 684.3,1089.2 686.0,1089.0 687.7,1088.6 689.5,1088.2 691.2,1087.6 693.0,1087.0 694.8,1086.4 696.5,1085.7 698.3,1084.9 699.9,1084.0 701.4,1082.8 702.8,1081.5 704.1,1080.0 705.5,1078.5 707.0,1076.8 708.4,1075.0 709.9,1073.1 711.4,1071.4 712.8,1069.8 714.2,1068.3 715.6,1066.9 717.0,1065.5 718.4,1064.3 719.9,1063.2 721.4,1062.0 722.8,1060.5 724.2,1058.6 725.7,1056.5 727.1,1054.3 728.5,1052.0 729.9,1049.7 731.3,1047.3 732.8,1045.0 734.2,1042.8 735.6,1040.8 737.1,1039.0 738.6,1037.2 740.0,1035.5 741.4,1033.8 742.9,1032.0 744.3,1030.4 745.6,1029.1 746.8,1028.1 747.9,1027.4 749.0,1026.8 750.0,1026.3 750.9,1025.9 751.8,1025.6 752.7,1025.2 753.6,1024.6 754.6,1023.6 755.7,1022.3 756.9,1020.9 758.0,1019.5 759.2,1018.1 760.3,1016.7 761.5,1015.3 762.8,1013.7 764.2,1012.0 765.6,1010.2 767.1,1008.3 768.5,1006.5 769.9,1004.7 771.3,1003.0 772.8,1001.2 774.2,999.4 775.6,997.5 777.1,995.5 778.6,993.5 780.0,991.5 781.4,989.5 782.8,987.5 784.2,985.5 785.6,983.4 787.1,981.2 788.6,979.0 790.0,976.7 791.5,974.5 792.8,972.5 794.1,970.6 795.5,968.5 797.0,965.7 798.8,962.1 800.7,957.9 802.8,953.4 805.0,949.0 807.3,944.6 809.7,940.0 812.3,935.5 815.0,931.5 817.9,928.1 821.1,925.1 824.3,922.2 827.5,919.0 830.7,915.2 833.9,911.0 837.1,907.0 840.0,904.0 842.6,902.2 845.0,901.3 847.4,900.7 850.0,900.2 852.9,899.6 855.9,899.0 859.1,898.7 862.5,899.0 866.2,899.9 870.2,901.3 874.0,903.2 877.5,905.2 880.3,907.8 882.7,910.9 884.9,913.9 887.5,916.5 890.4,918.4 893.4,919.8 896.6,921.1 900.0,922.8 903.6,924.6 907.5,926.5 911.4,928.7 915.0,931.5 918.3,935.2 921.4,939.5 924.4,943.9 927.5,947.8 930.6,950.8 933.8,953.3 936.9,955.9 940.0,959.0 943.2,962.9 946.4,967.4 949.6,972.0 952.5,976.5 955.2,980.9 957.7,985.4 960.1,989.8 962.5,994.0 965.0,997.9 967.5,1001.5 970.0,1005.1 972.5,1009.0 975.0,1013.4 977.5,1018.1 980.0,1022.6 982.5,1026.5 984.9,1029.6 987.3,1032.1 989.8,1034.4 992.5,1036.5 995.4,1038.4 998.6,1040.1 1001.8,1041.8 1005.0,1044.0 1008.2,1046.6 1011.4,1049.5 1014.6,1052.7 1017.5,1056.5 1020.1,1061.0 1022.5,1066.2 1024.9,1071.5 1027.5,1076.5 1030.5,1081.1 1033.8,1085.4 1037.0,1089.7 1040.0,1094.0 1042.7,1098.4 1045.2,1102.8 1047.6,1107.1 1050.0,1111.5 1052.5,1115.9 1055.0,1120.4 1057.5,1124.8 1060.0,1129.0 1062.4,1133.1 1064.8,1137.1 1067.3,1140.8 1070.0,1144.0 1072.9,1146.6 1076.1,1148.6 1079.3,1150.5 1082.5,1152.5 1085.6,1154.8 1088.8,1157.2 1091.9,1159.6 1095.0,1162.0 1098.2,1164.4 1101.4,1166.8 1104.6,1169.3 1107.5,1172.0 1110.2,1174.8 1112.7,1177.8 1115.1,1180.9 1117.5,1184.0 1120.1,1187.3 1122.7,1190.7 1125.2,1194.0 1127.5,1197.0 1129.4,1199.8 1131.1,1202.4 1132.8,1204.7 1135.0,1206.5 1137.7,1207.6 1140.6,1208.2 1143.9,1208.7 1147.5,1209.5 1151.6,1210.8 1156.1,1212.2 1160.7,1214.0 1165.0,1216.0 1168.9,1218.6 1172.5,1221.7 1176.1,1224.7 1180.0,1227.0 1184.3,1228.1 1188.9,1228.4 1193.4,1228.8 1197.5,1230.0 1201.0,1232.6 1204.2,1236.0 1207.2,1239.4 1210.0,1242.0 1212.7,1243.2 1215.2,1243.5 1217.6,1243.9 1220.0,1245.0 1222.6,1247.4 1225.2,1250.6 1227.7,1253.9 1230.0,1256.5 1232.0,1258.5 1233.7,1260.1 1235.5,1261.2 1237.5,1261.2 1239.9,1259.8 1242.5,1257.2 1245.2,1254.4 1248.0,1252.5 1250.9,1251.7 1253.9,1251.4 1256.9,1251.7 1260.0,1252.5 1263.1,1254.1 1266.2,1256.5 1269.4,1259.0 1272.5,1261.2 1275.6,1263.3 1278.8,1265.3 1281.9,1266.9 1285.0,1268.0 1288.1,1267.9 1291.2,1267.1 1294.4,1266.3 1297.5,1266.5 1300.6,1268.3 1303.8,1271.0 1306.9,1274.0 1310.0,1276.2 1313.1,1277.5 1316.2,1278.2 1319.4,1278.9 1322.5,1280.0 1325.6,1282.1 1328.8,1284.8 1331.9,1287.2 1335.0,1288.8 1338.1,1288.7 1341.2,1287.5 1344.4,1286.3 1347.5,1286.2 1350.7,1287.7 1353.9,1290.2 1357.1,1292.8 1360.0,1295.0 1362.7,1296.4 1365.2,1297.5 1367.6,1298.6 1370.0,1300.0 1372.4,1302.0 1374.7,1304.5 1377.1,1306.8 1380.0,1308.8 1383.4,1310.0 1387.2,1310.7 1391.1,1311.4 1395.0,1312.5 1398.8,1314.3 1402.7,1316.6 1406.4,1318.7 1410.0,1320.0 1413.3,1320.1 1416.4,1319.5 1419.4,1318.7 1422.5,1318.8 1425.6,1319.9 1428.6,1321.6 1431.7,1323.5 1435.0,1325.0 1438.6,1325.9 1442.5,1326.6 1446.4,1327.1 1450.0,1327.5 1453.4,1328.0 1456.6,1328.5 1459.6,1328.8 1462.5,1328.8 1465.1,1328.0 1467.5,1326.6 1469.9,1325.4 1472.5,1325.0 1475.4,1325.7 1478.4,1327.0 1481.6,1328.6 1485.0,1330.0 1488.6,1331.2 1492.5,1332.4 1496.4,1333.4 1500.0,1333.8 1503.2,1333.3 1506.1,1332.1 1509.1,1330.8 1512.5,1330.0 1516.6,1329.6 1521.2,1329.3 1525.9,1329.4 1530.0,1330.0 1533.4,1331.5 1536.4,1333.6 1539.3,1335.8 1542.5,1337.5 1546.0,1338.5 1549.7,1339.1 1553.5,1339.5 1557.5,1340.0 1561.6,1340.8 1565.9,1341.6 1570.4,1342.3 1575.0,1342.5 1579.9,1341.9 1585.0,1340.7 1590.1,1339.5 1595.0,1338.8 1599.6,1338.7 1603.9,1339.1 1608.2,1339.7 1612.5,1340.0 1617.0,1339.9 1621.6,1339.6 1626.0,1339.5 1630.0,1340.0 1633.4,1341.4 1636.4,1343.4 1639.3,1345.6 1642.5,1347.5 1645.9,1349.1 1649.4,1350.6 1653.2,1351.8 1657.5,1352.5 1662.9,1352.5 1669.1,1352.1 1675.1,1351.2 1680.0,1350.0 1683.3,1348.1 1685.5,1345.5 1687.4,1343.1 1690.0,1341.2 1693.5,1340.4 1697.3,1340.0 1701.3,1340.0 1705.0,1340.0 1708.4,1340.4 1711.6,1341.2 1714.6,1341.7 1717.5,1341.2 1720.1,1339.4 1722.3,1336.6 1724.7,1333.6 1727.5,1331.2 1730.7,1329.8 1734.1,1328.8 1737.9,1328.1 1742.5,1327.5 1748.3,1326.8 1755.2,1326.2 1761.9,1326.0 1767.5,1326.2 1771.4,1327.3 1774.4,1329.0 1777.0,1330.8 1780.0,1332.5 1783.6,1333.7 1787.5,1334.8 1791.4,1335.9 1795.0,1337.5 1798.3,1339.7 1801.4,1342.4 1804.4,1345.1 1807.5,1347.5 1810.7,1349.7 1813.9,1352.0 1817.1,1353.5 1820.0,1353.8 1822.6,1352.0 1825.0,1348.7 1827.4,1345.1 1830.0,1342.5 1832.9,1341.1 1835.9,1340.4 1839.1,1340.1 1842.5,1340.0 1846.2,1340.3 1850.2,1340.9 1854.0,1341.8 1857.5,1342.5 1860.3,1343.2 1862.7,1344.1 1864.9,1344.7 1867.5,1345.0 1870.4,1344.8 1873.4,1344.1 1876.6,1343.3 1880.0,1342.5 1883.7,1341.4 1887.7,1340.1 1891.5,1339.0 1895.0,1338.8 1897.6,1339.8 1899.7,1341.9 1901.9,1343.9 1905.0,1345.0 1909.5,1344.9 1914.8,1344.0 1920.3,1342.7 1925.0,1341.2 1928.7,1339.3 1931.7,1336.9 1934.6,1334.7 1937.5,1333.8 1940.4,1334.5 1943.3,1336.4 1946.3,1338.5 1950.0,1340.0 1954.6,1340.7 1959.8,1341.1 1965.2,1341.1 1970.0,1340.5 1974.2,1338.8 1978.1,1336.3 1981.7,1333.9 1985.0,1332.5 1987.8,1332.4 1990.2,1333.2 1992.4,1334.5 1995.0,1336.2 1997.8,1338.9 2000.6,1342.4 2003.8,1345.6 2007.5,1347.5 2012.0,1347.4 2017.2,1346.1 2022.5,1344.3 2027.5,1343.0 2032.1,1342.4 2036.6,1342.0 2040.9,1341.7 2045.0,1341.2 2048.9,1340.8 2052.7,1340.4 2056.3,1339.7 2060.0,1338.8 2063.8,1337.1 2067.5,1334.8 2071.2,1332.7 2075.0,1331.2 2078.9,1330.5 2082.8,1330.2 2086.6,1330.5 2090.0,1331.2 2092.8,1332.8 2095.2,1335.1 2097.4,1337.6 2100.0,1340.0 2102.8,1342.4 2105.6,1344.9 2108.8,1347.2 2112.5,1348.8 2117.1,1349.3 2122.3,1349.1 2127.7,1348.8 2132.5,1348.8 2136.6,1349.4 2140.3,1350.4 2143.9,1351.2 2147.5,1351.2 2151.2,1350.3 2155.0,1348.7 2158.8,1346.8 2162.5,1345.0 2166.2,1343.2 2169.8,1341.2 2173.6,1339.5 2177.5,1338.8 2181.6,1339.4 2185.9,1340.9 2190.4,1342.7 2195.0,1343.8 2199.9,1343.8 2205.0,1343.4 2210.1,1342.9 2215.0,1342.5 2219.6,1342.3 2223.9,1342.2 2228.2,1342.2 2232.5,1342.5 2236.8,1343.2 2241.1,1344.2 2245.4,1345.3 2250.0,1346.2 2254.9,1346.8 2260.0,1347.3 2265.1,1347.8 2270.0,1348.8 2274.6,1350.5 2279.1,1352.7 2283.4,1354.9 2287.5,1356.2 2291.4,1356.6 2295.2,1356.4 2298.8,1355.8 2302.5,1355.0 2306.1,1353.9 2309.5,1352.3 2313.2,1350.9 2317.5,1350.0 2322.6,1349.9 2328.3,1350.4 2334.2,1351.0 2340.0,1351.2 2345.6,1351.1 2351.1,1350.9 2356.7,1350.5 2362.5,1350.0 2369.1,1349.4 2376.1,1348.7 2382.6,1348.0 2387.5,1347.5 2390.2,1347.2 2391.3,1347.1 2391.7,1347.0 2392.0,1347.0" fill="none" stroke="#ff0000" stroke-width="11.70" stroke-linejoin="round" stroke-linecap="butt"/>
<polyline points="336.4,599.4 336.8,602.1 337.3,605.8 337.9,610.3 338.5,615.0 339.1,619.4 339.6,623.9 340.3,629.4 341.2,637.0 342.6,647.5 344.2,660.2 345.9,673.8 347.5,687.0 349.1,699.5 350.6,712.0 352.2,724.5 353.8,737.0 355.3,749.5 356.8,762.0 358.3,774.5 360.0,787.0 361.8,799.5 363.7,812.0 365.6,824.5 367.5,837.0 369.4,849.8 371.4,862.8 373.2,875.4 375.0,887.0 376.6,897.4 378.2,907.1 379.5,915.9 380.8,924.0 381.7,931.1 382.3,937.2 383.0,943.0 383.8,949.0 384.7,955.2 385.7,961.5 386.8,967.8 388.0,974.0 389.3,980.2 390.8,986.5 392.2,992.8 393.8,999.0 395.2,1005.4 396.8,1011.8 398.3,1018.1 400.0,1024.0 401.8,1029.5 403.7,1034.8 405.6,1039.6 407.5,1044.0 409.3,1047.7 411.1,1050.9 412.9,1053.7 415.0,1056.5 417.3,1059.1 419.8,1061.5 422.4,1063.9 425.0,1066.5 427.5,1069.6 430.0,1073.0 432.5,1076.3 435.0,1079.0 437.5,1080.9 440.0,1082.3 442.5,1083.6 445.0,1085.2 447.5,1087.6 450.0,1090.4 452.5,1093.1 455.0,1095.2 457.6,1096.5 460.2,1097.1 462.7,1097.8 465.0,1099.0 467.0,1101.1 468.8,1103.8 470.5,1106.6 472.5,1109.0 474.9,1110.8 477.5,1112.2 480.1,1113.6 482.5,1115.2 484.6,1117.0 486.4,1118.8 488.2,1121.0 490.0,1124.0 491.9,1128.2 493.8,1133.3 495.6,1138.7 497.5,1144.0 499.4,1148.9 501.2,1153.8 503.1,1158.8 505.0,1164.0 506.9,1169.6 508.8,1175.6 510.6,1181.3 512.5,1186.5 514.4,1190.9 516.2,1194.8 518.1,1198.3 520.0,1201.5 521.8,1204.4 523.6,1207.0 525.4,1209.3 527.5,1211.5 529.9,1213.6 532.5,1215.6 535.1,1217.4 537.5,1219.0 539.5,1220.7 541.2,1222.3 543.0,1223.5 545.0,1224.0 547.3,1223.3 549.8,1221.7 552.4,1220.0 555.0,1219.0 557.5,1218.9 560.0,1219.3 562.5,1220.2 565.0,1221.5 567.6,1223.4 570.2,1225.9 572.7,1228.6 575.0,1231.5 577.1,1234.5 578.9,1237.8 580.7,1241.0 582.5,1244.0 584.3,1247.0 586.1,1250.1 587.9,1252.6 590.0,1254.0 592.3,1253.7 594.7,1252.3 597.3,1250.4 600.0,1249.0 602.9,1248.3 606.1,1247.8 609.3,1247.3 612.5,1246.5 615.7,1245.2 618.9,1243.7 622.1,1242.0 625.0,1240.2 627.7,1238.5 630.3,1236.6 632.7,1234.7 635.0,1232.8 637.0,1230.8 638.8,1228.9 640.6,1227.0 642.5,1225.2 644.7,1223.8 647.0,1222.6 649.3,1221.1 651.2,1219.0 652.7,1216.0 653.9,1212.4 655.0,1208.3 656.2,1204.0 657.7,1199.4 659.2,1194.5 660.8,1189.3 662.5,1184.0 664.3,1178.6 666.2,1173.1 668.1,1167.4 670.0,1161.5 671.9,1155.5 673.8,1149.5 675.6,1143.2 677.5,1136.5 679.4,1129.3 681.2,1121.7 683.1,1113.9 685.0,1106.5 686.9,1099.5 688.8,1092.8 690.6,1086.0 692.5,1079.0 694.4,1071.6 696.2,1064.0 698.1,1056.4 700.0,1049.0 701.9,1041.9 703.8,1035.1 705.6,1028.3 707.5,1021.5 709.4,1014.7 711.2,1007.9 713.1,1001.1 715.0,994.0 716.9,986.7 718.8,979.2 720.6,971.6 722.5,964.0 724.5,956.0 726.6,947.8 728.5,940.1 730.0,934.0 730.8,930.7 731.0,929.4 731.4,927.9 732.5,924.0 734.6,917.0 737.4,908.0 740.6,897.8 743.8,887.0 747.1,875.4 750.6,862.8 754.2,849.8 757.5,837.0 760.5,824.5 763.4,812.0 766.1,799.5 768.8,787.0 771.3,774.5 773.8,762.0 776.3,749.5 778.8,737.0 781.3,724.4 783.8,711.8 786.3,699.3 788.8,687.0 791.3,674.5 793.9,661.8 796.3,649.9 798.5,639.9 800.3,632.5 801.7,626.9 803.1,622.2 804.5,617.0 806.0,611.3 807.5,605.6 809.0,599.9 810.5,594.2 812.0,588.5 813.5,582.8 815.0,577.1 816.6,571.4 818.4,565.4 820.4,559.2 822.3,553.4 824.0,548.5 825.4,544.8 826.6,542.1 827.8,539.7 829.1,537.1 830.8,534.1 832.6,531.0 834.4,528.1 836.0,525.7 837.3,523.9 838.4,522.4 839.5,521.3 840.5,520.3 841.5,519.5 842.5,518.8 843.5,518.4 844.5,518.2 845.6,518.2 846.7,518.4 847.8,518.7 849.0,519.2 850.3,519.8 851.7,520.5 853.1,521.4 854.5,522.2 856.0,522.9 857.4,523.5 859.0,524.4 860.5,525.7 862.1,527.6 863.7,530.0 865.3,532.7 867.0,535.5 868.8,538.6 870.6,541.9 872.5,545.3 874.2,548.5 875.8,551.5 877.3,554.4 878.8,557.2 880.3,560.0 881.8,562.9 883.3,565.7 884.9,568.5 886.5,571.4 888.2,574.3 890.0,577.2 891.7,580.1 893.5,583.0 895.3,585.8 897.1,588.7 898.9,591.4 900.5,594.2 902.0,596.9 903.4,599.5 904.7,602.2 906.0,605.0 907.3,607.9 908.5,611.0 909.7,614.1 910.8,617.1 911.8,620.0 912.7,622.8 913.6,625.7 914.5,628.5 915.4,631.4 916.2,634.2 917.0,637.1 917.9,639.9 918.8,642.7 919.7,645.6 920.6,648.4 921.5,651.0 922.3,653.1 923.2,654.9 924.0,657.0 925.1,660.0 926.4,664.1 927.8,669.0 929.3,674.3 931.0,680.0 932.9,686.1 935.0,692.8 937.1,699.5 938.8,705.7 939.9,711.1 940.7,716.1 941.4,721.2 942.5,727.0 944.0,733.8 945.9,741.1 947.9,748.9 950.0,757.0 952.3,765.5 954.8,774.3 957.4,783.3 960.0,792.0 962.5,800.2 965.0,808.2 967.5,816.3 970.0,824.5 972.5,833.3 975.0,842.5 977.5,851.4 980.0,859.5 982.6,866.5 985.2,872.8 987.7,878.7 990.0,884.5 992.0,890.0 993.8,895.0 995.5,900.3 997.5,906.5 999.9,914.1 1002.5,922.6 1005.1,931.2 1007.5,939.0 1009.5,945.8 1011.2,952.1 1013.0,958.1 1015.0,964.0 1017.3,969.9 1019.8,975.6 1022.4,981.1 1025.0,986.5 1027.4,991.7 1029.8,996.8 1032.3,1001.7 1035.0,1006.5 1038.0,1011.1 1041.2,1015.4 1044.5,1019.7 1047.5,1024.0 1050.2,1028.3 1052.7,1032.6 1055.1,1036.9 1057.5,1041.5 1060.0,1046.3 1062.6,1051.3 1065.1,1056.4 1067.5,1061.5 1069.8,1066.6 1072.1,1071.7 1074.3,1076.7 1076.2,1081.5 1077.9,1086.1 1079.3,1090.4 1080.7,1094.7 1082.5,1099.0 1084.7,1103.4 1087.3,1107.8 1089.9,1112.1 1092.5,1116.5 1095.0,1120.9 1097.5,1125.4 1100.0,1129.8 1102.5,1134.0 1104.9,1137.9 1107.3,1141.6 1109.8,1145.3 1112.5,1149.5 1115.4,1154.3 1118.6,1159.5 1121.8,1164.8 1125.0,1170.0 1128.1,1175.1 1131.2,1180.2 1134.4,1185.2 1137.5,1190.0 1140.6,1194.8 1143.6,1199.5 1146.7,1203.9 1150.0,1207.5 1153.6,1210.0 1157.3,1211.8 1161.2,1213.3 1165.0,1215.0 1168.9,1217.2 1172.8,1219.5 1176.6,1221.7 1180.0,1223.8 1182.9,1225.3 1185.3,1226.6 1187.6,1228.0 1190.0,1230.0 1192.5,1232.9 1195.0,1236.4 1197.5,1239.9 1200.0,1243.0 1202.6,1245.3 1205.2,1247.1 1207.7,1248.9 1210.0,1251.0 1212.0,1253.7 1213.8,1256.6 1215.5,1259.6 1217.5,1262.5 1219.8,1265.2 1222.3,1267.8 1224.9,1270.4 1227.5,1273.0 1230.0,1275.7 1232.5,1278.5 1235.0,1281.0 1237.5,1283.0 1240.0,1284.2 1242.5,1284.7 1245.0,1285.1 1247.5,1285.5 1250.1,1285.9 1252.7,1286.2 1255.2,1286.7 1257.5,1288.0 1259.6,1290.4 1261.6,1293.7 1263.4,1297.1 1265.0,1300.0 1266.3,1302.5 1267.3,1304.8 1268.5,1306.7 1270.0,1308.0 1272.2,1308.2 1274.8,1307.5 1277.6,1306.8 1280.0,1307.0 1282.0,1308.5 1283.8,1310.8 1285.5,1313.2 1287.5,1315.0 1289.9,1315.9 1292.5,1316.3 1295.1,1316.7 1297.5,1317.5 1299.4,1319.1 1301.1,1321.2 1302.8,1323.3 1305.0,1325.0 1307.9,1326.0 1311.2,1326.6 1314.6,1327.4 1317.5,1328.8 1319.7,1331.1 1321.6,1334.1 1323.2,1337.2 1325.0,1340.0 1326.9,1342.5 1328.8,1344.9 1330.6,1347.1 1332.5,1348.8 1334.4,1350.0 1336.2,1350.8 1338.1,1351.2 1340.0,1351.2 1341.8,1350.5 1343.4,1349.2 1345.3,1348.0 1347.5,1347.5 1350.4,1348.1 1353.8,1349.3 1357.1,1350.9 1360.0,1352.5 1362.2,1354.2 1364.1,1356.1 1365.7,1358.1 1367.5,1360.0 1369.4,1361.9 1371.2,1363.9 1373.1,1365.8 1375.0,1367.5 1376.8,1369.0 1378.6,1370.3 1380.4,1371.5 1382.5,1372.5 1384.8,1373.3 1387.3,1374.0 1389.9,1374.5 1392.5,1375.0 1395.1,1375.4 1397.7,1375.6 1400.2,1375.9 1402.5,1376.2 1404.6,1376.9 1406.4,1377.7 1408.2,1378.4 1410.0,1378.8 1411.8,1378.4 1413.4,1377.5 1415.3,1376.6 1417.5,1376.2 1420.4,1376.3 1423.8,1376.6 1427.1,1377.4 1430.0,1378.8 1432.2,1381.1 1434.1,1384.3 1435.7,1387.5 1437.5,1390.0 1439.3,1391.6 1441.1,1392.8 1442.9,1393.5 1445.0,1393.8 1447.3,1393.3 1449.8,1392.3 1452.4,1391.0 1455.0,1390.0 1457.5,1389.2 1460.0,1388.4 1462.5,1387.8 1465.0,1387.5 1467.6,1387.5 1470.2,1387.9 1472.7,1388.3 1475.0,1388.8 1477.1,1389.2 1478.9,1389.8 1480.7,1390.2 1482.5,1390.0 1484.4,1388.8 1486.2,1386.9 1488.1,1385.0 1490.0,1383.8 1491.9,1383.3 1493.8,1383.2 1495.6,1383.7 1497.5,1385.0 1499.4,1387.3 1501.4,1390.5 1503.3,1394.1 1505.0,1397.5 1506.4,1400.8 1507.5,1404.3 1508.6,1407.5 1510.0,1410.0 1511.6,1411.5 1513.4,1412.3 1515.4,1412.9 1517.5,1413.8 1519.8,1414.9 1522.3,1416.2 1524.9,1417.6 1527.5,1418.8 1530.0,1419.9 1532.5,1421.1 1535.0,1422.0 1537.5,1422.5 1540.0,1422.5 1542.5,1422.0 1545.0,1421.2 1547.5,1420.0 1549.9,1418.1 1552.3,1415.5 1554.8,1413.1 1557.5,1411.2 1560.5,1410.4 1563.8,1410.1 1567.0,1410.0 1570.0,1410.0 1572.7,1410.0 1575.2,1410.2 1577.6,1410.2 1580.0,1410.0 1582.5,1409.2 1585.0,1407.9 1587.5,1406.7 1590.0,1406.2 1592.5,1406.8 1595.0,1408.0 1597.5,1409.3 1600.0,1410.0 1602.4,1409.6 1604.8,1408.7 1607.3,1407.7 1610.0,1407.5 1612.9,1408.1 1616.1,1409.2 1619.3,1410.7 1622.5,1412.5 1625.6,1415.0 1628.8,1418.0 1631.9,1420.8 1635.0,1422.5 1638.1,1422.4 1641.1,1421.0 1644.2,1419.5 1647.5,1418.8 1651.1,1419.4 1654.8,1420.7 1658.7,1422.0 1662.5,1422.5 1666.2,1421.7 1670.0,1420.0 1673.8,1418.3 1677.5,1417.5 1681.2,1417.8 1685.0,1418.8 1688.8,1420.0 1692.5,1421.2 1696.3,1422.7 1700.2,1424.4 1703.9,1425.8 1707.5,1426.2 1710.8,1425.5 1713.9,1423.8 1716.9,1421.8 1720.0,1420.0 1723.1,1418.1 1726.2,1416.0 1729.4,1414.3 1732.5,1413.8 1735.6,1414.7 1738.6,1416.6 1741.7,1419.1 1745.0,1421.2 1748.5,1423.3 1752.2,1425.5 1756.0,1427.5 1760.0,1428.8 1764.3,1429.2 1768.9,1429.1 1773.4,1428.5 1777.5,1427.5 1781.0,1425.9 1784.2,1423.7 1787.2,1421.2 1790.0,1418.8 1792.7,1415.8 1795.2,1412.4 1797.6,1409.7 1800.0,1408.8 1802.5,1410.4 1805.0,1413.9 1807.5,1417.9 1810.0,1421.2 1812.4,1423.6 1814.7,1425.7 1817.1,1427.4 1820.0,1428.8 1823.5,1429.6 1827.3,1430.2 1831.3,1430.3 1835.0,1430.0 1838.2,1429.1 1841.1,1427.7 1844.1,1426.1 1847.5,1425.0 1851.5,1424.3 1855.9,1423.9 1860.5,1423.7 1865.0,1423.8 1869.4,1424.3 1873.8,1425.3 1878.1,1426.2 1882.5,1426.2 1886.9,1425.2 1891.4,1423.4 1895.8,1421.4 1900.0,1420.0 1903.8,1419.2 1907.3,1418.7 1911.0,1418.5 1915.0,1418.8 1919.7,1419.6 1924.8,1421.1 1930.1,1422.6 1935.0,1423.8 1939.6,1424.4 1944.1,1424.9 1948.4,1425.1 1952.5,1425.0 1956.4,1424.3 1960.0,1423.2 1963.6,1422.0 1967.5,1421.2 1971.8,1420.8 1976.4,1420.5 1980.9,1420.6 1985.0,1421.2 1988.4,1422.7 1991.4,1424.8 1994.3,1427.0 1997.5,1428.8 2001.1,1430.1 2004.8,1431.3 2008.7,1432.2 2012.5,1432.5 2016.3,1432.1 2020.2,1431.2 2023.9,1430.0 2027.5,1428.8 2030.8,1427.3 2033.9,1425.5 2036.9,1423.9 2040.0,1422.5 2043.2,1421.4 2046.4,1420.4 2049.6,1419.8 2052.5,1420.0 2055.2,1421.2 2057.7,1423.2 2060.1,1425.5 2062.5,1427.5 2064.8,1429.4 2067.0,1431.2 2069.5,1432.8 2072.5,1433.8 2076.5,1433.8 2081.1,1433.3 2085.8,1432.3 2090.0,1431.2 2093.5,1429.9 2096.6,1428.1 2099.5,1426.4 2102.5,1425.0 2105.6,1423.9 2108.8,1423.0 2111.9,1422.4 2115.0,1422.5 2118.1,1423.5 2121.1,1425.3 2124.2,1427.2 2127.5,1428.8 2131.1,1429.6 2135.0,1430.1 2138.9,1430.5 2142.5,1431.2 2145.8,1432.6 2148.9,1434.3 2151.9,1435.7 2155.0,1436.2 2158.1,1435.2 2161.2,1433.2 2164.4,1431.1 2167.5,1430.0 2170.7,1430.5 2173.9,1432.0 2177.1,1433.5 2180.0,1433.8 2182.5,1432.2 2184.7,1429.5 2187.0,1426.7 2190.0,1425.0 2193.9,1424.9 2198.4,1425.7 2203.1,1426.8 2207.5,1427.5 2211.5,1427.9 2215.5,1428.1 2219.2,1428.1 2222.5,1427.5 2225.3,1425.8 2227.7,1423.2 2229.9,1420.9 2232.5,1420.0 2235.4,1421.4 2238.4,1424.4 2241.6,1427.3 2245.0,1428.8 2248.6,1427.8 2252.3,1425.3 2256.2,1422.7 2260.0,1421.2 2263.8,1421.9 2267.5,1423.7 2271.2,1425.2 2275.0,1425.0 2278.7,1421.7 2282.3,1416.4 2286.1,1411.3 2290.0,1408.8 2294.2,1409.9 2298.6,1413.3 2303.1,1417.2 2307.5,1420.0 2311.9,1420.9 2316.2,1420.9 2320.6,1420.8 2325.0,1421.2 2329.4,1422.8 2333.8,1425.1 2338.1,1427.0 2342.5,1427.5 2346.6,1425.9 2350.6,1423.0 2354.9,1419.8 2360.0,1417.5 2366.7,1416.5 2374.6,1416.3 2382.0,1416.3 2387.5,1416.2 2390.3,1416.1 2391.5,1416.0 2391.7,1416.0 2392.0,1416.0" fill="none" stroke="#808000" stroke-width="11.70" stroke-linejoin="round" stroke-linecap="butt"/>
</g>
<line x1="1182.5" y1="215.7" x2="1373.4" y2="215.7" stroke="#808000" stroke-width="12.4" stroke-linecap="round"/>
<line x1="1182.5" y1="320.0" x2="1373.4" y2="320.0" stroke="#ff0000" stroke-width="12.4" stroke-linecap="round"/>
<line x1="1182.5" y1="423.7" x2="1373.4" y2="423.7" stroke="#0000ff" stroke-width="12.4" stroke-linecap="round"/>
<line x1="1182.5" y1="527.1" x2="1373.4" y2="527.1" stroke="#000000" stroke-width="12.4" stroke-linecap="round"/>
<text transform="translate(1394.7,245.3) scale(0.9900,1)" font-size="86.0">0.04 mg/mL Sb<tspan font-size="64.9">2</tspan>S<tspan font-size="64.9">3</tspan> NCs</text>
<text transform="translate(1394.7,349.0) scale(0.9900,1)" font-size="86.0">0.03 mg/mL Sb<tspan font-size="64.9">2</tspan>S<tspan font-size="64.9">3</tspan> NCs</text>
<text transform="translate(1394.7,452.6) scale(0.9900,1)" font-size="86.0">0.02 mg/mL Sb<tspan font-size="64.9">2</tspan>S<tspan font-size="64.9">3</tspan> NCs</text>
<text transform="translate(1394.7,556.2) scale(0.9900,1)" font-size="86.0">0.01 mg/mL Sb<tspan font-size="64.9">2</tspan>S<tspan font-size="64.9">3</tspan> NCs</text>
<text transform="translate(330.5,1852.8) scale(0.9820,1)" font-size="86.0" text-anchor="middle">550</text>
<text transform="translate(625.6,1852.8) scale(0.9820,1)" font-size="86.0" text-anchor="middle">600</text>
<text transform="translate(920.8,1852.8) scale(0.9820,1)" font-size="86.0" text-anchor="middle">650</text>
<text transform="translate(1215.9,1852.8) scale(0.9820,1)" font-size="86.0" text-anchor="middle">700</text>
<text transform="translate(1511.1,1852.8) scale(0.9820,1)" font-size="86.0" text-anchor="middle">750</text>
<text transform="translate(1806.2,1852.8) scale(0.9820,1)" font-size="86.0" text-anchor="middle">800</text>
<text transform="translate(2101.4,1852.8) scale(0.9820,1)" font-size="86.0" text-anchor="middle">850</text>
<text transform="translate(2396.5,1852.8) scale(0.9820,1)" font-size="86.0" text-anchor="middle">900</text>
<text transform="translate(275.3,1476.0) scale(0.9820,1)" font-size="86.0" text-anchor="end">0</text>
<text transform="translate(275.3,915.0) scale(0.9820,1)" font-size="86.0" text-anchor="end">2</text>
<text transform="translate(275.3,355.5) scale(0.9820,1)" font-size="86.0" text-anchor="end">4</text>
<text transform="translate(1342.0,2022.9) scale(0.9750,1)" font-size="130.5" text-anchor="middle">Wavelength (nm)</text>
<text transform="translate(136.9,950.0) rotate(-90) scale(0.9750,1)" font-size="130.5" text-anchor="middle">PL intensity (a.u)</text>
</svg></body></html>
